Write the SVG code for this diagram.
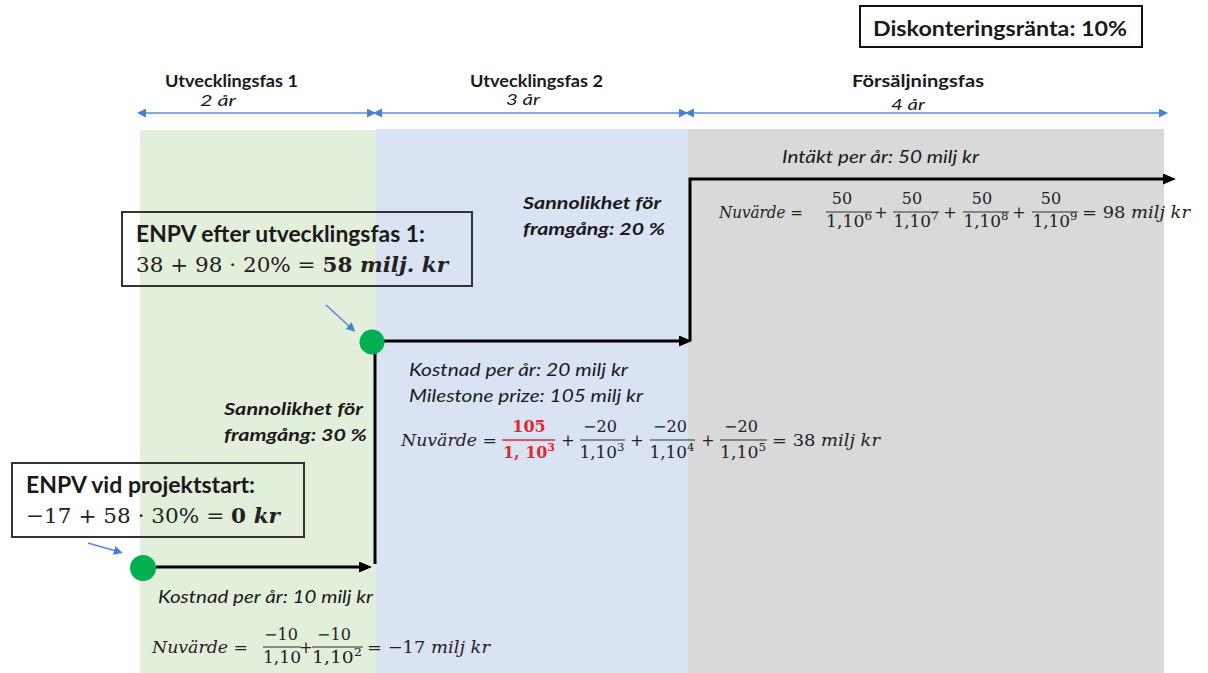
<svg xmlns="http://www.w3.org/2000/svg" width="1208" height="673" viewBox="0 0 1208 673">
<defs>
<style>
.lbl{font-family:Lato,"Liberation Sans",sans-serif;fill:#1a1a1a}
.b{font-weight:bold}
.i{font-style:italic}
.m{font-family:"DejaVu Serif","Liberation Serif",serif;fill:#222}
.fr{font-family:"DejaVu Serif","Liberation Serif",serif;fill:#222;font-size:16px;text-anchor:middle}
.red{fill:#e0282e;font-weight:bold}
.fl{stroke:#333;stroke-width:1.2}
.flr{stroke:#e0282e;stroke-width:1.6}
.conn{fill:none;stroke:#000;stroke-width:3}
.blue{fill:none;stroke:#5b8bd6;stroke-width:1.6}
.box{fill:none;stroke:#333;stroke-width:2}
.dot{fill:#00b050}
</style>
<marker id="ah" markerUnits="userSpaceOnUse" markerWidth="13" markerHeight="11" refX="4" refY="5.5" orient="auto">
<path d="M0,0 L13,5.5 L0,11 z" fill="#000"/>
</marker>
<marker id="bh" markerUnits="userSpaceOnUse" markerWidth="9" markerHeight="9" refX="2" refY="4.5" orient="auto-start-reverse">
<path d="M0,0 L9,4.5 L0,9 z" fill="#4a7fd4"/>
</marker>
</defs>
<rect width="1208" height="673" fill="#fff"/>
<!-- phase bands -->
<rect x="140" y="130" width="236" height="543" fill="#e2efda"/>
<rect x="376" y="129" width="312" height="544" fill="#dae3f3"/>
<rect x="688" y="129" width="476" height="544" fill="#d9d9d9"/>

<g id="rate">
<rect x="860" y="6" width="282" height="41" fill="#fff" stroke="#111" stroke-width="2"/>
<text class="lbl b" x="873" y="36" font-size="21" textLength="254" lengthAdjust="spacingAndGlyphs">Diskonteringsränta: 10%</text>
</g>

<g id="phase-labels">
<text class="lbl b" x="165" y="87" font-size="17" textLength="133" lengthAdjust="spacingAndGlyphs">Utvecklingsfas 1</text>
<text class="lbl b" x="470" y="87" font-size="17" textLength="133" lengthAdjust="spacingAndGlyphs">Utvecklingsfas 2</text>
<text class="lbl b" x="852" y="87" font-size="17" textLength="132" lengthAdjust="spacingAndGlyphs">Försäljningsfas</text>
<text class="lbl i" x="200" y="106" font-size="15" textLength="36" lengthAdjust="spacingAndGlyphs">2 år</text>
<text class="lbl i" x="506" y="105" font-size="15" textLength="34" lengthAdjust="spacingAndGlyphs">3 år</text>
<text class="lbl i" x="891" y="110" font-size="15" textLength="34" lengthAdjust="spacingAndGlyphs">4 år</text>
</g>

<g id="connectors">
<path class="blue" d="M144,113 H369" marker-start="url(#bh)" marker-end="url(#bh)"/>
<path class="blue" d="M380,113 H681" marker-start="url(#bh)" marker-end="url(#bh)"/>
<path class="blue" d="M692,113 H1161" marker-start="url(#bh)" marker-end="url(#bh)"/>
<path class="conn" d="M156,567 H363" marker-end="url(#ah)"/>
<path class="conn" d="M375,564 V353"/>
<path class="conn" d="M384,341 H683" marker-end="url(#ah)"/>
<path class="conn" d="M690,341 V179 H1167" marker-end="url(#ah)"/>
<path class="blue" d="M326,305 L350,327" marker-end="url(#bh)" stroke="#4a7fd4"/>
<path class="blue" d="M88,543 L116,551" marker-end="url(#bh)" stroke="#4a7fd4"/>
</g>

<g id="start-node">
<circle class="dot" cx="143" cy="568" r="13"/>
</g>
<g id="milestone-node">
<circle class="dot" cx="372" cy="342" r="12.5"/>
</g>

<g id="enpv-start">
<rect class="box" x="12" y="463" width="292" height="74"/>
<text class="lbl b" x="26" y="493" font-size="22" textLength="229" lengthAdjust="spacingAndGlyphs">ENPV vid projektstart:</text>
<text class="m" x="26" y="523" font-size="21" textLength="254" lengthAdjust="spacingAndGlyphs">−17 + 58 · 30% = <tspan font-weight="bold">0 </tspan><tspan font-weight="bold" font-style="italic">kr</tspan></text>
</g>

<g id="enpv-fas1">
<rect class="box" x="122" y="212" width="350" height="74"/>
<text class="lbl b" x="136" y="242" font-size="22" textLength="289" lengthAdjust="spacingAndGlyphs">ENPV efter utvecklingsfas 1:</text>
<text class="m" x="136" y="272" font-size="21" textLength="312" lengthAdjust="spacingAndGlyphs">38 + 98 · 20% = <tspan font-weight="bold">58 </tspan><tspan font-weight="bold" font-style="italic">milj. kr</tspan></text>
</g>

<g id="phase1-text">
<text class="lbl i" x="158" y="603" font-size="17" textLength="215" lengthAdjust="spacingAndGlyphs">Kostnad per år: 10 milj kr</text>
<text class="lbl b i" x="224" y="415" font-size="17" textLength="139" lengthAdjust="spacingAndGlyphs">Sannolikhet för</text>
<text class="lbl b i" x="224" y="441" font-size="17" textLength="143" lengthAdjust="spacingAndGlyphs">framgång: 30 %</text>
<text class="m" x="152" y="653" font-size="17" textLength="96" lengthAdjust="spacingAndGlyphs"><tspan font-style="italic">Nuvärde</tspan> =</text>
<text class="fr" x="281" y="640">−10</text>
<line class="fl" x1="263" y1="647" x2="301" y2="647"/>
<text class="fr" x="282" y="663" textLength="38" lengthAdjust="spacingAndGlyphs">1,10</text>
<text class="m" x="306" y="653" font-size="16" text-anchor="middle">+</text>
<text class="fr" x="334" y="640">−10</text>
<line class="fl" x1="312" y1="647" x2="363" y2="647"/>
<text class="fr" x="337" y="663" textLength="50" lengthAdjust="spacingAndGlyphs">1,10<tspan font-size="11" dy="-7">2</tspan></text>
<text class="m" x="367" y="653" font-size="17" textLength="123" lengthAdjust="spacingAndGlyphs">= −17 <tspan font-style="italic">milj kr</tspan></text>
</g>

<g id="phase2-text">
<text class="lbl b i" x="523" y="209" font-size="17" textLength="138" lengthAdjust="spacingAndGlyphs">Sannolikhet för</text>
<text class="lbl b i" x="523" y="235" font-size="17" textLength="142" lengthAdjust="spacingAndGlyphs">framgång: 20 %</text>
<text class="lbl i" x="409" y="376" font-size="17" textLength="219" lengthAdjust="spacingAndGlyphs">Kostnad per år: 20 milj kr</text>
<text class="lbl i" x="409" y="402" font-size="17" textLength="234" lengthAdjust="spacingAndGlyphs">Milestone prize: 105 milj kr</text>
<text class="m" x="401" y="446" font-size="17" textLength="96" lengthAdjust="spacingAndGlyphs"><tspan font-style="italic">Nuvärde</tspan> =</text>
<text class="fr red" x="529" y="432">105</text>
<line class="flr" x1="502" y1="440" x2="555" y2="440"/>
<text class="fr red" x="529" y="458" textLength="52" lengthAdjust="spacingAndGlyphs">1, 10<tspan font-size="11" dy="-7">3</tspan></text>
<text class="m" x="568" y="446" font-size="16" text-anchor="middle">+</text>
<text class="fr" x="600" y="432">−20</text>
<line class="fl" x1="580" y1="440" x2="625" y2="440"/>
<text class="fr" x="602" y="458" textLength="45" lengthAdjust="spacingAndGlyphs">1,10<tspan font-size="11" dy="-7">3</tspan></text>
<text class="m" x="637" y="446" font-size="16" text-anchor="middle">+</text>
<text class="fr" x="670" y="432">−20</text>
<line class="fl" x1="650" y1="440" x2="695" y2="440"/>
<text class="fr" x="672" y="458" textLength="45" lengthAdjust="spacingAndGlyphs">1,10<tspan font-size="11" dy="-7">4</tspan></text>
<text class="m" x="708" y="446" font-size="16" text-anchor="middle">+</text>
<text class="fr" x="741" y="432">−20</text>
<line class="fl" x1="720" y1="440" x2="767" y2="440"/>
<text class="fr" x="743" y="458" textLength="46" lengthAdjust="spacingAndGlyphs">1,10<tspan font-size="11" dy="-7">5</tspan></text>
<text class="m" x="772" y="446" font-size="17" textLength="108" lengthAdjust="spacingAndGlyphs">= 38 <tspan font-style="italic">milj kr</tspan></text>
</g>

<g id="sales-text">
<text class="lbl i" x="782" y="163" font-size="17" textLength="197" lengthAdjust="spacingAndGlyphs">Intäkt per år: 50 milj kr</text>
<text class="m" x="719" y="218" font-size="17" textLength="84" lengthAdjust="spacingAndGlyphs"><tspan font-style="italic">Nuvärde</tspan> =</text>
<text class="fr" x="842" y="204">50</text>
<line class="fl" x1="826" y1="212" x2="872" y2="212"/>
<text class="fr" x="849" y="227" textLength="46" lengthAdjust="spacingAndGlyphs">1,10<tspan font-size="11" dy="-7">6</tspan></text>
<text class="m" x="881" y="218" font-size="16" text-anchor="middle">+</text>
<text class="fr" x="912" y="204">50</text>
<line class="fl" x1="893" y1="212" x2="939" y2="212"/>
<text class="fr" x="916" y="227" textLength="45" lengthAdjust="spacingAndGlyphs">1,10<tspan font-size="11" dy="-7">7</tspan></text>
<text class="m" x="950" y="218" font-size="16" text-anchor="middle">+</text>
<text class="fr" x="982" y="204">50</text>
<line class="fl" x1="963" y1="212" x2="1009" y2="212"/>
<text class="fr" x="986" y="227" textLength="45" lengthAdjust="spacingAndGlyphs">1,10<tspan font-size="11" dy="-7">8</tspan></text>
<text class="m" x="1019" y="218" font-size="16" text-anchor="middle">+</text>
<text class="fr" x="1051" y="204">50</text>
<line class="fl" x1="1032" y1="212" x2="1078" y2="212"/>
<text class="fr" x="1055" y="227" textLength="45" lengthAdjust="spacingAndGlyphs">1,10<tspan font-size="11" dy="-7">9</tspan></text>
<text class="m" x="1082" y="218" font-size="17" textLength="108" lengthAdjust="spacingAndGlyphs">= 98 <tspan font-style="italic">milj kr</tspan></text>
</g>
</svg>
